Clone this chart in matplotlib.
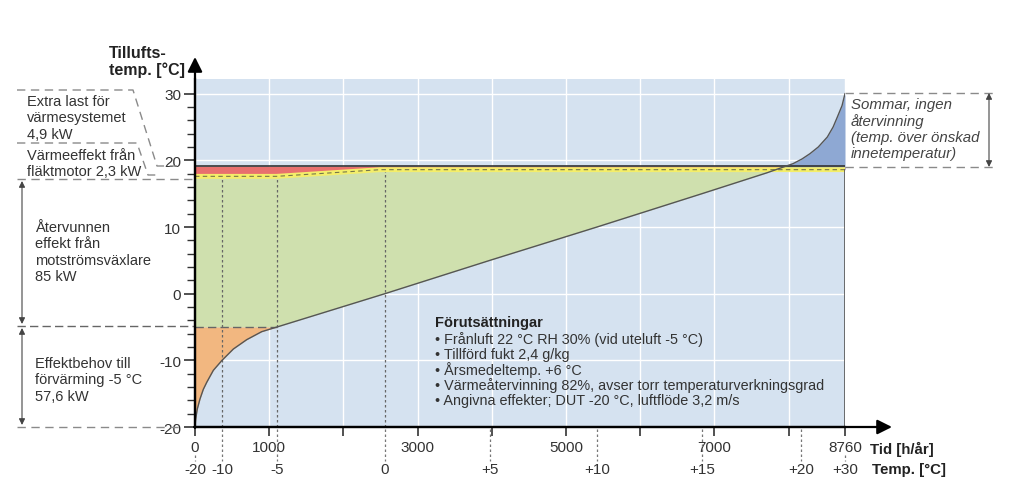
import numpy as np
import matplotlib.pyplot as plt
from matplotlib.transforms import blended_transform_factory as blend

plt.rcParams['font.family'] = ['Liberation Sans', 'DejaVu Sans']
plt.rcParams['axes.unicode_minus'] = False

# outdoor temperature duration curve (hours per year vs temperature)
hours = [0, 9, 31, 67, 112, 158, 247, 364, 517, 697, 899, 1105, 2560, 3975,
         5418, 6833, 7700, 8060, 8180, 8288, 8400, 8522, 8600, 8657, 8720, 8760]
outdoor = [-20, -18.8, -17.3, -15.8, -14.35, -13.3, -11.5, -10, -8.3, -6.9, -5.7, -5, 0, 5,
           10, 15, 18.1, 19.5, 20.2, 21, 22, 23.5, 25, 26.5, 28.2, 30]

# supply air after heat recovery + fan motor (yellow line)
supply_hours = [0, 1100, 2500, 8760]
supply_temp = [17.6, 17.6, 18.6, 18.6]
target_temp = 19.1
preheat_temp = -5

hour_ticks = [0, 1000, 2000, 3000, 4000, 5000, 6000, 7000, 8000, 8760]
hour_labels = ['0', '1000', '', '3000', '', '5000', '', '7000', '', '8760']
temp_pos = [0, 364, 1105, 2560, 3975, 5418, 6833, 8167, 8760]
temp_labels = ['-20', '-10', '-5', '0', '+5', '+10', '+15', '+20', '+30']
marked_hours = [364, 1105, 2560]

c_bg = '#d5e2f0'
c_green = '#cfe0ae'
c_orange = '#f2b780'
c_red = '#e8706e'
c_dblue = '#8ea8d3'
c_yellow = '#f4ee6a'
c_txt = '#333333'
c_dash = '#8a8a8a'

fig = plt.figure(figsize=(10.24, 4.89), dpi=100)
ax = fig.add_axes([195/1024, 61/489, 650/1024, 348/489])
ov = fig.add_axes([0, 0, 1, 1])
ov.set_xlim(0, 1024)
ov.set_ylim(489, 0)
ov.axis('off')
ov.patch.set_visible(False)

ax.set_facecolor(c_bg)
ax.set_xlim(0, 8760)
ax.set_ylim(-20, 32.2)

hh = np.union1d(hours, supply_hours)
t_out = np.interp(hh, hours, outdoor)
t_sup = np.interp(hh, supply_hours, supply_temp)

ax.fill_between(hh, np.maximum(t_out, preheat_temp), t_sup, where=t_out <= t_sup,
                interpolate=True, color=c_green, lw=0)
ax.fill_between(hh, t_out, preheat_temp, where=t_out <= preheat_temp,
                interpolate=True, color=c_orange, lw=0)
ax.fill_between(hh, t_sup, target_temp, color=c_red, lw=0)
ax.fill_between(hh, t_sup, t_out, where=t_out >= t_sup, interpolate=True,
                color=c_dblue, lw=0)

for h in marked_hours:
    ax.plot([h, h], [-20, np.interp(h, supply_hours, supply_temp)],
            color='#666666', lw=0.9, dashes=(2, 2))
ax.plot([0, 1105], [preheat_temp, preheat_temp], color='#666666', lw=1, dashes=(6, 3))

ax.plot([0, 8760], [target_temp, target_temp], color='#333333', lw=1.2)
ax.plot(supply_hours, supply_temp, color=c_yellow, lw=3.5, solid_capstyle='butt')
ax.plot(supply_hours, supply_temp, color='#77774a', lw=0.8, dashes=(4, 3))
ax.plot(hours, outdoor, color='#555555', lw=1)
ax.plot([8760, 8760], [-20, 18.6], color='#555555', lw=1.2)

ax.grid(color='white', lw=1)
ax.set_axisbelow(True)
for s in ['top', 'right']:
    ax.spines[s].set_visible(False)
for s in ['left', 'bottom']:
    ax.spines[s].set_linewidth(1.6)

ax.set_yticks([-20, -10, 0, 10, 20, 30])
ax.set_yticks(np.arange(-20, 31, 2), minor=True)
ax.set_xticks(hour_ticks)
ax.set_xticklabels(hour_labels)
ax.tick_params(axis='y', which='major', length=8, width=1.2, pad=2, labelsize=11, colors=c_txt)
ax.tick_params(axis='y', which='minor', length=5.5, width=1, colors=c_txt)
ax.tick_params(axis='x', length=6.5, width=1.2, pad=3, labelsize=11, colors=c_txt)

# axis arrows
arr = dict(arrowstyle='-|>', color='black', lw=1.6, mutation_scale=22, shrinkA=0, shrinkB=0)
ov.annotate('', xy=(195, 58), xytext=(195, 429), arrowprops=arr)
ov.annotate('', xy=(892, 428), xytext=(194, 428), arrowprops=arr)

# temperature scale under the time axis
tb = blend(ax.transData, ov.transData)
for h, lab in zip(temp_pos, temp_labels):
    ax.text(h, 470, lab, transform=tb, ha='center', va='center', fontsize=11, color=c_txt)
    y0 = 456 if lab in ['-20', '+30'] else 430
    ax.plot([h, h], [y0, 462], transform=tb, color='#777777', lw=0.9, dashes=(2, 2), clip_on=False)

ov.text(870, 449, 'Tid [h/år]', fontsize=10.8, fontweight='bold', va='center', color='#222222')
ov.text(872, 470, 'Temp. [°C]', fontsize=10.8, fontweight='bold', va='center', color='#222222')
ov.text(109, 53, 'Tillufts-', fontsize=11.5, fontweight='bold', va='center', color='#222222')
ov.text(109, 70, 'temp. [°C]', fontsize=11.5, fontweight='bold', va='center', color='#222222')

# left annotations
dk = dict(color=c_dash, lw=1, dashes=(6, 4))
ov.plot([17, 133, 157, 177], [91, 91, 167, 167], **dk)
ov.plot([17, 137, 148, 160], [144, 144, 176, 176], **dk)
ov.plot([17, 193], [180, 180], **dk)
ov.plot([17, 180], [428, 428], **dk)
ov.plot([17, 195], [327, 327], color='#666666', lw=1, dashes=(6, 3))

a2 = dict(arrowstyle='<|-|>', color='#444444', lw=0.8, mutation_scale=9, shrinkA=0, shrinkB=0)
ov.annotate('', xy=(22, 182), xytext=(22, 325), arrowprops=a2)
ov.annotate('', xy=(22, 329), xytext=(22, 426), arrowprops=a2)
ov.annotate('', xy=(989, 94), xytext=(989, 168), arrowprops=a2)

tk = dict(fontsize=10.5, color=c_txt, va='top', linespacing=1.22)
ov.text(27, 95, 'Extra last för\nvärmesystemet\n4,9 kW', **tk)
ov.text(27, 149, 'Värmeeffekt från\nfläktmotor 2,3 kW', **tk)
ov.text(35, 221, 'Återvunnen\neffekt från\nmotströmsväxlare\n85 kW', **tk)
ov.text(35, 357, 'Effektbehov till\nförvärming -5 °C\n57,6 kW', **tk)

# right annotation
ov.plot([845, 995], [94, 94], **dk)
ov.plot([845, 995], [168, 168], **dk)
ov.text(851, 98, 'Sommar, ingen\nåtervinning\n(temp. över önskad\ninnetemperatur)',
        fontsize=10.8, style='italic', color='#444444', va='top', linespacing=1.19)

# assumptions box
ov.text(435, 323, 'Förutsättningar', fontsize=10.5, fontweight='bold', va='center', color='#222222')
bullets = ['Frånluft 22 °C RH 30% (vid uteluft -5 °C)',
           'Tillförd fukt 2,4 g/kg',
           'Årsmedeltemp. +6 °C',
           'Värmeåtervinning 82%, avser torr temperaturverkningsgrad',
           'Angivna effekter; DUT -20 °C, luftflöde 3,2 m/s']
for i, b in enumerate(bullets):
    ov.text(435, 339.5 + i*15.4, '• ' + b, fontsize=10.4, va='center', color=c_txt)

fig.savefig('out.png', dpi=100)
